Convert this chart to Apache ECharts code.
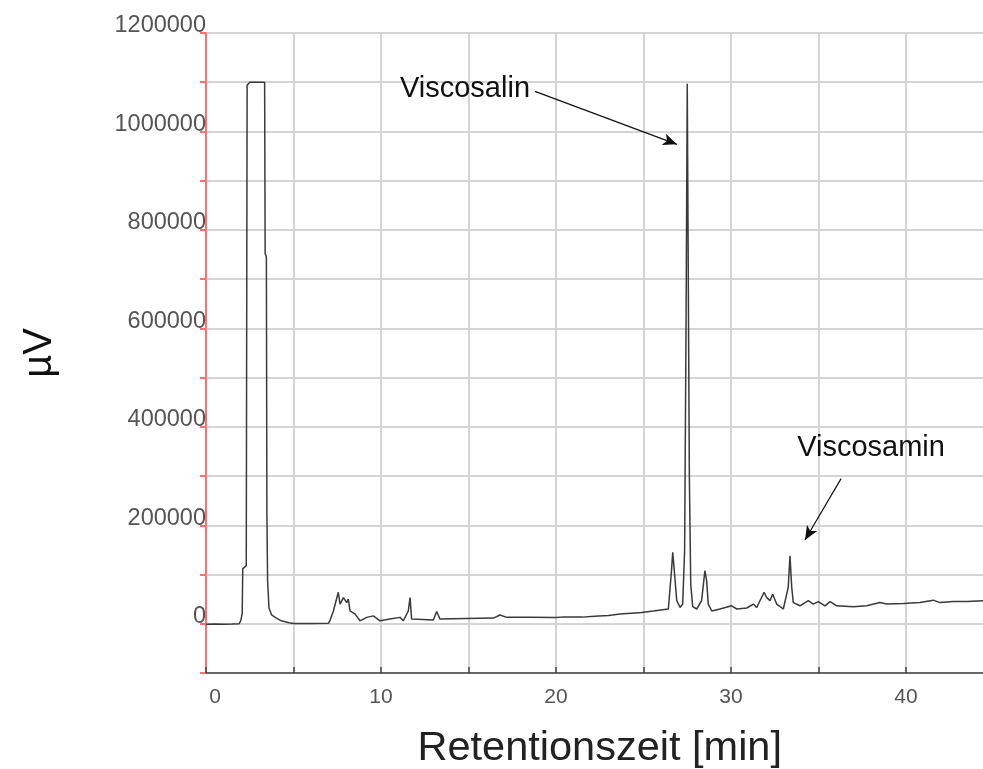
<!DOCTYPE html>
<html>
<head>
<meta charset="utf-8">
<script src="https://cdn.jsdelivr.net/npm/echarts@6/dist/echarts.min.js"></script>
<style>
  html, body { margin: 0; padding: 0; background: #fff; }
  #chart { width: 983px; height: 769px; }
</style>
</head>
<body>
<div id="chart"></div>
<script>
// retention time [min]
const retTime = [
  0, 0.5, 1.0, 1.5, 1.9, 2.0, 2.07, 2.1, 2.3, 2.35, 2.5, 3.35, 3.38, 3.45, 3.48, 3.52, 3.6, 3.75, 4.0, 4.3, 4.75, 5.0, 6.0, 7.0,
  7.1, 7.28, 7.56, 7.66, 7.85, 8.04, 8.13, 8.23, 8.51, 8.8, 9.18, 9.56, 9.94, 10.51, 11.09, 11.27, 11.56, 11.66, 11.75,
  12.99, 13.18, 13.37, 16.42, 16.8, 17.18, 18.5, 20, 20.5, 21.5, 22.2, 23, 23.66, 24.5, 24.9, 25.56, 26.42,
  26.6, 26.67, 26.76, 26.9, 27.09, 27.24, 27.35, 27.43, 27.5, 27.56, 27.62, 27.7, 27.81, 28.04, 28.32, 28.51, 28.61, 28.7, 28.9,
  29.37, 30.04, 30.33, 30.9, 31.28, 31.47, 31.89, 32.04, 32.23, 32.38, 32.61, 32.99, 33.27, 33.37, 33.47, 33.56, 33.94,
  34.42, 34.7, 34.99, 35.37, 35.66, 36.04, 36.99, 37.75, 38.51, 38.9, 39.85, 40.8, 41.56, 41.94, 42.7, 43.47, 44.4, 45
]
// detector signal [µV]
const signal = [
  -1000, -500, -1000, -500, 0, 8000, 22000, 112000, 118000, 1094000, 1100000, 1100000, 752000, 745000, 224000, 87000, 32000, 18000, 12000, 6000, 2000, 500, 500, 1000,
  8000, 26000, 64000, 40000, 53000, 43000, 50000, 26000, 20000, 6000, 13000, 16000, 6000, 9500, 13000, 6000, 26000, 53000, 9500,
  7500, 25000, 9500, 11500, 17700, 13000, 13000, 12500, 14000, 13500, 15500, 17000, 19700, 22000, 23000, 26000, 30000,
  108000, 145000, 108000, 47000, 33000, 40000, 150000, 600000, 1097000, 700000, 300000, 80000, 35000, 30000, 47000, 108000, 87000, 40000, 26000,
  30000, 36500, 30000, 32000, 40000, 33000, 64000, 53000, 47000, 60000, 40000, 30000, 74000, 138000, 74000, 43000, 36500,
  47000, 40000, 45000, 36500, 45000, 36500, 34500, 36500, 43000, 40000, 41000, 43000, 48000, 43000, 45000, 45000, 47000, 47000
]

// peak annotations: label position, arrow start, arrow end
const peakNames = ['Viscosalin', 'Viscosamin']
const labelPos = [[14.8, 1087000], [38.0, 357800]]
const arrowFrom = [[18.8, 1081500], [36.29, 294800]]
const arrowTo = [[26.91, 973800], [34.23, 170200]]

const chart = echarts.init(document.getElementById('chart'))

const seriesData = retTime.map((t, i) => [t, signal[i]])

chart.setOption({
  animation: false,
  backgroundColor: '#fff',
  textStyle: { fontFamily: 'Liberation Sans, Arial, sans-serif' },
  grid: {
    left: 206,
    top: 33,
    right: -10.5,
    bottom: 96,
    containLabel: false,
    outerBoundsMode: 'none',
  },
  xAxis: {
    type: 'value',
    min: 0,
    max: 45,
    interval: 5,
    name: 'Retentionszeit [min]',
    nameLocation: 'middle',
    nameGap: 55,
    nameTextStyle: { fontSize: 41.5, color: '#222' },
    axisLine: { onZero: false, lineStyle: { color: '#444', width: 1.5 } },
    axisTick: { inside: true, length: 6, lineStyle: { color: '#444', width: 1.5 } },
    axisLabel: {
      fontSize: 21,
      color: '#555',
      margin: 14,
      formatter: (v) => {
        if (v === 0) return '{z|0}'
        return v % 10 === 0 ? String(v) : ''
      },
      rich: {
        z: { fontSize: 21, color: '#555', padding: [0, 0, 0, 18] },
      },
    },
    splitLine: { show: true, lineStyle: { color: '#d4d4d4', width: 2 } },
  },
  yAxis: {
    type: 'value',
    min: -100000,
    max: 1200000,
    interval: 100000,
    name: 'µV',
    nameLocation: 'middle',
    nameRotate: 90,
    nameGap: 146,
    nameTextStyle: { fontSize: 40, color: '#111' },
    axisLine: { show: true, lineStyle: { color: '#ff7070', width: 2 } },
    axisTick: { show: true, length: 6, lineStyle: { color: '#ff7070', width: 2 } },
    axisLabel: {
      fontSize: 23.5,
      color: '#555',
      margin: 0,
      verticalAlign: 'bottom',
      lineHeight: 14,
      formatter: (v) => (v % 200000 === 0 ? String(v) : ''),
    },
    splitLine: { show: true, lineStyle: { color: '#d4d4d4', width: 2 } },
  },
  series: [
    {
      type: 'line',
      data: seriesData,
      showSymbol: false,
      lineStyle: { color: '#3a3a3a', width: 1.5 },
      markLine: {
        silent: true,
        symbol: ['none', 'arrow'],
        symbolSize: [9, 14],
        label: { show: false },
        lineStyle: { color: '#111', width: 1.2, type: 'solid' },
        data: arrowFrom.map((p, i) => [{ coord: p }, { coord: arrowTo[i] }]),
      },
      markPoint: {
        silent: true,
        symbol: 'circle',
        symbolSize: 0,
        data: peakNames.map((n, i) => ({
          coord: labelPos[i],
          label: { show: true, formatter: n, fontSize: 29, color: '#111', position: 'inside' },
        })),
      },
    },
  ],
})
</script>
</body>
</html>
